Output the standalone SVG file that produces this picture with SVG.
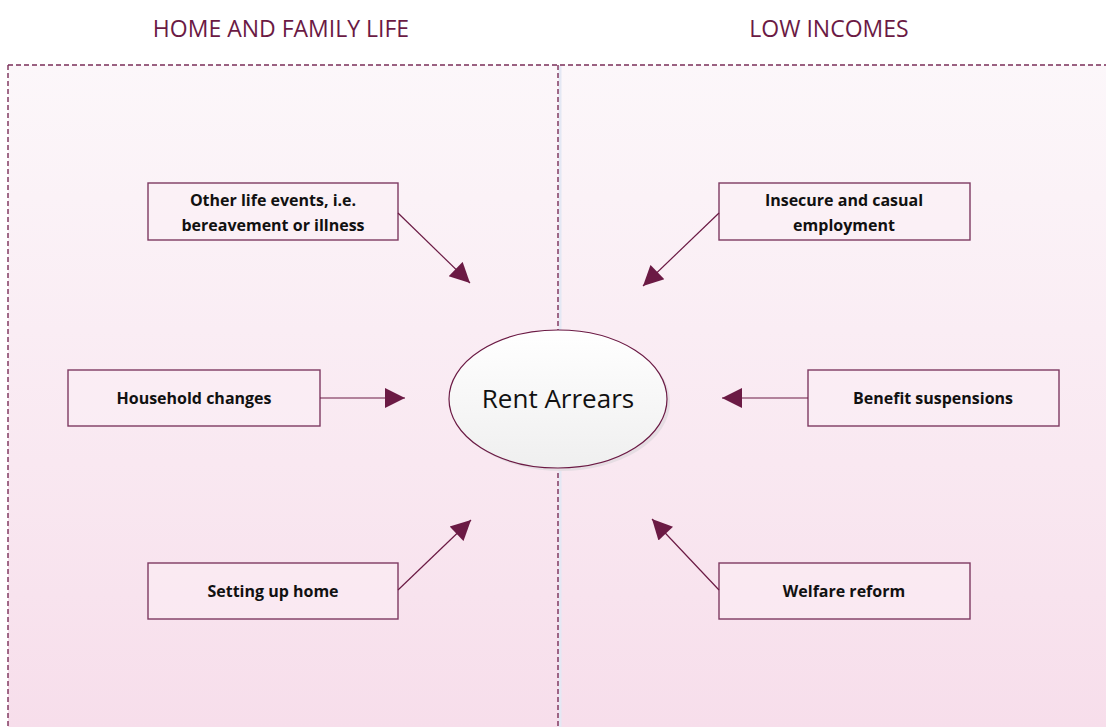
<svg xmlns="http://www.w3.org/2000/svg" width="1106" height="727" viewBox="0 0 1106 727">
<defs>
<linearGradient id="bg" x1="0" y1="0" x2="0" y2="1">
<stop offset="0" stop-color="#fcf7fa"/>
<stop offset="1" stop-color="#f7deeb"/>
</linearGradient>
<linearGradient id="ell" x1="0" y1="0" x2="0" y2="1">
<stop offset="0" stop-color="#ffffff"/>
<stop offset="1" stop-color="#efefef"/>
</linearGradient>
<marker id="ah" viewBox="0 0 10 10" refX="10" refY="5" markerWidth="22" markerHeight="20" markerUnits="userSpaceOnUse" orient="auto">
<path d="M0,0 L10,5 L0,10 Z" fill="#6b1a44"/>
</marker>
<style>
.title{font-family:"Open Sans","Liberation Sans",sans-serif;font-size:23px;fill:#6b1a44;text-anchor:middle}
.box{fill:#fbeff5;fill-opacity:0.5;stroke:#7e3a62;stroke-width:1.4}
.lbl{font-family:"Open Sans","Liberation Sans",sans-serif;font-size:16px;font-weight:bold;fill:#111;text-anchor:middle}
.conn{stroke:#6b1a44;stroke-width:1.2;fill:none;marker-end:url(#ah)}
.dash{stroke:#7a2e58;stroke-width:1.4;stroke-dasharray:5,3;fill:none}
</style>
</defs>
<rect x="8" y="65" width="1098" height="662" fill="url(#bg)"/>
<line x1="560" y1="66" x2="560" y2="727" stroke="#e4e8f4" stroke-width="3"/>
<g id="frame">
<line class="dash" x1="8" y1="65" x2="1106" y2="65"/>
<line class="dash" x1="8" y1="65" x2="8" y2="727"/>
<line class="dash" x1="558" y1="65" x2="558" y2="727"/>
</g>
<text class="title" x="281" y="37">HOME AND FAMILY LIFE</text>
<text class="title" x="829" y="37">LOW INCOMES</text>
<g id="rent-arrears">
<ellipse cx="561" cy="402" rx="109" ry="69" fill="#e6dde3"/>
<ellipse cx="558" cy="399" rx="109" ry="69" fill="url(#ell)" stroke="#6b1a44" stroke-width="1.2"/>
<text x="558" y="408" font-family="'Open Sans','Liberation Sans',sans-serif" font-size="26" fill="#111" text-anchor="middle">Rent Arrears</text>
</g>
<g id="other-life-events">
<rect class="box" x="148" y="183" width="250" height="57"/>
<text class="lbl" x="273" y="206">Other life events, i.e.</text>
<text class="lbl" x="273" y="231">bereavement or illness</text>
</g>
<g id="household-changes">
<rect class="box" x="68" y="370" width="252" height="56"/>
<text class="lbl" x="194" y="404">Household changes</text>
</g>
<g id="setting-up-home">
<rect class="box" x="148" y="563" width="250" height="56"/>
<text class="lbl" x="273" y="597">Setting up home</text>
</g>
<g id="insecure-employment">
<rect class="box" x="719" y="183" width="251" height="57"/>
<text class="lbl" x="844" y="206">Insecure and casual</text>
<text class="lbl" x="844" y="231">employment</text>
</g>
<g id="benefit-suspensions">
<rect class="box" x="808" y="370" width="251" height="56"/>
<text class="lbl" x="933" y="404">Benefit suspensions</text>
</g>
<g id="welfare-reform">
<rect class="box" x="719" y="563" width="251" height="56"/>
<text class="lbl" x="844" y="597">Welfare reform</text>
</g>
<g id="connectors">
<line class="conn" x1="398" y1="213" x2="470" y2="283"/>
<line class="conn" x1="320" y1="398" x2="405" y2="398"/>
<line class="conn" x1="398" y1="590" x2="471" y2="520"/>
<line class="conn" x1="719" y1="213" x2="643" y2="286"/>
<line class="conn" x1="808" y1="398" x2="722" y2="398"/>
<line class="conn" x1="719" y1="590" x2="652" y2="519"/>
</g>
</svg>
